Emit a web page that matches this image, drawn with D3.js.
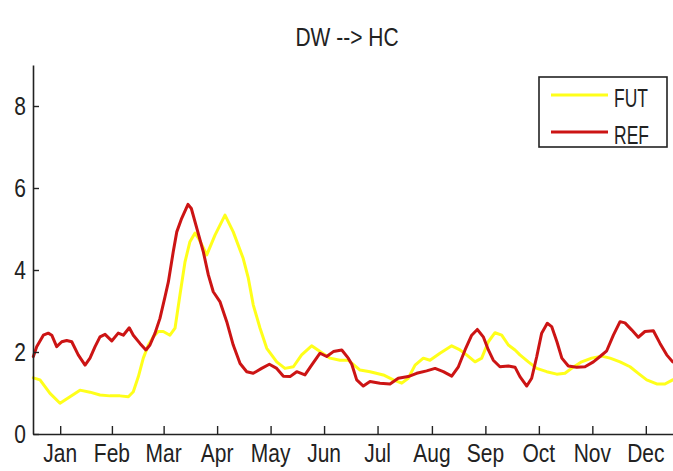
<!DOCTYPE html>
<html>
<head>
<meta charset="utf-8">
<script src="https://cdn.jsdelivr.net/npm/d3@7"></script>
<style>
  html, body { margin: 0; padding: 0; background: #fff; }
  svg { display: block; }
  text { font-family: "Liberation Sans", Arial, Helvetica, sans-serif; fill: #222; }
</style>
</head>
<body>
<svg id="chart" width="673" height="471"></svg>
<script>
// Day-of-year positions of the month ticks (mid-month) and their labels
const monthTickDays = [15.5, 45, 74.5, 105, 135.5, 166, 196.5, 227.5, 258, 288.5, 319, 349.5];
const monthLabels = ["Jan", "Feb", "Mar", "Apr", "May", "Jun", "Jul", "Aug", "Sep", "Oct", "Nov", "Dec"];
const yTicks = [0, 2, 4, 6, 8];

// FUT series: day of year and value
const futDays = [0.2, 4.0, 9.7, 15.4, 21.1, 26.8, 32.5, 38.2, 43.9, 49.6, 54.4, 57.2, 60.1, 62.9, 65.8, 68.6,
  71.5, 74.3, 78.1, 81.0, 83.8, 86.7, 89.5, 92.4, 94.7, 99.1, 103.8, 109.5, 114.2, 119.9, 122.8, 125.6,
  129.5, 133.3, 139.0, 143.7, 148.5, 153.2, 158.9, 163.7, 169.4, 175.1, 179.8, 186.5, 192.2, 199.8,
  205.5, 210.3, 214.0, 217.9, 222.6, 226.4, 232.1, 238.8, 243.5, 247.3, 252.1, 255.9, 259.7, 263.5,
  267.3, 271.1, 274.9, 277.7, 282.5, 287.3, 293.0, 298.7, 303.4, 308.1, 312.9, 318.6, 324.3, 329.1,
  334.8, 340.5, 345.2, 350.0, 355.7, 360.4, 364.8];
const futValues = [1.37, 1.32, 0.99, 0.75, 0.91, 1.07, 1.02, 0.95, 0.93, 0.93, 0.91, 1.03, 1.40, 1.85, 2.17, 2.37,
  2.50, 2.50, 2.41, 2.58, 3.39, 4.20, 4.69, 4.90, 4.75, 4.37, 4.85, 5.34, 4.93, 4.28, 3.80, 3.15,
  2.58, 2.09, 1.76, 1.60, 1.64, 1.93, 2.15, 2.01, 1.85, 1.80, 1.80, 1.56, 1.52, 1.44,
  1.32, 1.24, 1.36, 1.68, 1.85, 1.80, 1.97, 2.15, 2.05, 1.93, 1.76, 1.85, 2.25, 2.47,
  2.41, 2.17, 2.05, 1.93, 1.76, 1.60, 1.52, 1.46, 1.48, 1.63, 1.76, 1.85, 1.90, 1.85,
  1.76, 1.64, 1.48, 1.32, 1.22, 1.22, 1.32];

// REF series: day of year and value
const refDays = [0.2, 2.1, 5.9, 8.7, 10.7, 13.5, 16.4, 19.2, 22.1, 25.8, 29.7, 32.5, 35.4, 38.2, 41.1, 44.9,
  48.6, 51.5, 54.9, 57.2, 61.0, 64.4, 66.7, 69.6, 72.4, 75.3, 77.2, 80.0, 82.0, 84.8, 88.4, 90.3,
  93.4, 97.1, 100.0, 102.8, 106.6, 110.5, 114.2, 118.1, 121.9, 125.6, 130.4, 134.8, 139.0, 142.8,
  146.6, 150.4, 155.1, 158.9, 163.7, 167.5, 171.3, 176.1, 179.8, 181.8, 184.6, 188.4, 192.2, 197.9,
  203.6, 208.3, 214.0, 218.8, 224.5, 229.3, 234.0, 238.8, 242.6, 246.4, 250.2, 253.4, 256.8, 259.7,
  262.5, 266.3, 271.1, 274.9, 277.7, 281.6, 284.4, 287.3, 290.1, 293.3, 295.8, 298.8, 301.6, 305.3,
  310.1, 314.8, 319.6, 323.4, 327.2, 331.0, 334.8, 337.6, 341.4, 345.2, 349.0, 353.8, 357.6, 361.4, 364.8];
const refValues = [1.89, 2.13, 2.41, 2.46, 2.41, 2.13, 2.25, 2.28, 2.25, 1.93, 1.68, 1.85, 2.13, 2.37, 2.43, 2.27,
  2.46, 2.41, 2.59, 2.41, 2.21, 2.05, 2.17, 2.46, 2.82, 3.35, 3.71, 4.45, 4.93, 5.26, 5.60, 5.50,
  5.02, 4.45, 3.88, 3.47, 3.23, 2.74, 2.17, 1.72, 1.52, 1.48, 1.60, 1.70, 1.60, 1.41,
  1.40, 1.52, 1.44, 1.68, 1.97, 1.89, 2.01, 2.05, 1.85, 1.70, 1.32, 1.17, 1.28, 1.24,
  1.22, 1.36, 1.40, 1.48, 1.54, 1.60, 1.52, 1.41, 1.64, 2.05, 2.41, 2.55, 2.37, 2.05,
  1.80, 1.64, 1.66, 1.63, 1.40, 1.17, 1.36, 1.89, 2.46, 2.70, 2.62, 2.25, 1.85, 1.66,
  1.63, 1.64, 1.76, 1.89, 2.03, 2.41, 2.74, 2.71, 2.54, 2.36, 2.50, 2.52, 2.21, 1.93, 1.76];

const seriesNames = ["FUT", "REF"];
const seriesColors = ["#ffff1a", "#cc1414"];

const svg = d3.select("#chart");
const margin = { left: 33, right: 0, top: 65, bottom: 37 };
const W = 673, H = 471;
const FONT = 25;      // label size
const NARROW = 0.84;  // horizontal squeeze of the label glyphs

const x = d3.scaleLinear().domain([0, 365]).range([margin.left, W - margin.right]);
const y = d3.scaleLinear().domain([0, 9]).range([H - margin.bottom, margin.top]);

// Draw a text squeezed horizontally around its anchor point
function label(parent, px, py, str, anchor, squeeze) {
  return parent.append("text")
    .attr("transform", `translate(${px},${py}) scale(${squeeze},1)`)
    .attr("text-anchor", anchor)
    .style("font-size", FONT + "px")
    .text(str);
}

// Title
label(svg, 347, 46, "DW --> HC", "middle", NARROW);

// Lines
const line = d3.line().x(d => x(d[0])).y(d => y(d[1])).curve(d3.curveLinear);
const series = [
  d3.zip(futDays, futValues),
  d3.zip(refDays, refValues)
];
svg.append("g").selectAll("path")
  .data(series)
  .join("path")
  .attr("d", line)
  .attr("fill", "none")
  .attr("stroke", (d, i) => seriesColors[i])
  .attr("stroke-width", 3)
  .attr("stroke-linejoin", "round")
  .attr("stroke-linecap", "round");

// Axes (ticks drawn inward); labels are placed separately
const xAxis = d3.axisBottom(x)
  .tickValues(monthTickDays)
  .tickFormat("")
  .tickSizeInner(-8).tickSizeOuter(0);
const gx = svg.append("g")
  .attr("transform", `translate(0,${H - margin.bottom})`)
  .call(xAxis);

const yAxis = d3.axisLeft(y)
  .tickValues(yTicks)
  .tickFormat("")
  .tickSizeInner(-6).tickSizeOuter(0);
const gy = svg.append("g")
  .attr("transform", `translate(${margin.left},0)`)
  .call(yAxis);

[gx, gy].forEach(g => {
  g.select(".domain").attr("stroke", "#222").attr("stroke-width", 1.6);
  g.selectAll(".tick line").attr("stroke", "#222").attr("stroke-width", 1.4);
  g.selectAll(".tick text").remove();
});

const labels = svg.append("g");
monthTickDays.forEach((d, i) => {
  label(labels, x(d), H - margin.bottom + 28, monthLabels[i], "middle", NARROW);
});
yTicks.forEach(v => {
  label(labels, margin.left - 7, y(v) + 9, d3.format("d")(v), "end", NARROW);
});

// Legend
const legend = svg.append("g");
legend.append("rect")
  .attr("x", 539).attr("y", 77).attr("width", 128).attr("height", 70)
  .attr("fill", "#fff").attr("stroke", "#222").attr("stroke-width", 1.6);
const rowY = [95, 132];
seriesNames.forEach((name, i) => {
  legend.append("line")
    .attr("x1", 551).attr("x2", 608)
    .attr("y1", rowY[i]).attr("y2", rowY[i])
    .attr("stroke", seriesColors[i]).attr("stroke-width", 3);
  label(legend, 614, rowY[i] + 12, name, "start", 0.7);
});
</script>
</body>
</html>
